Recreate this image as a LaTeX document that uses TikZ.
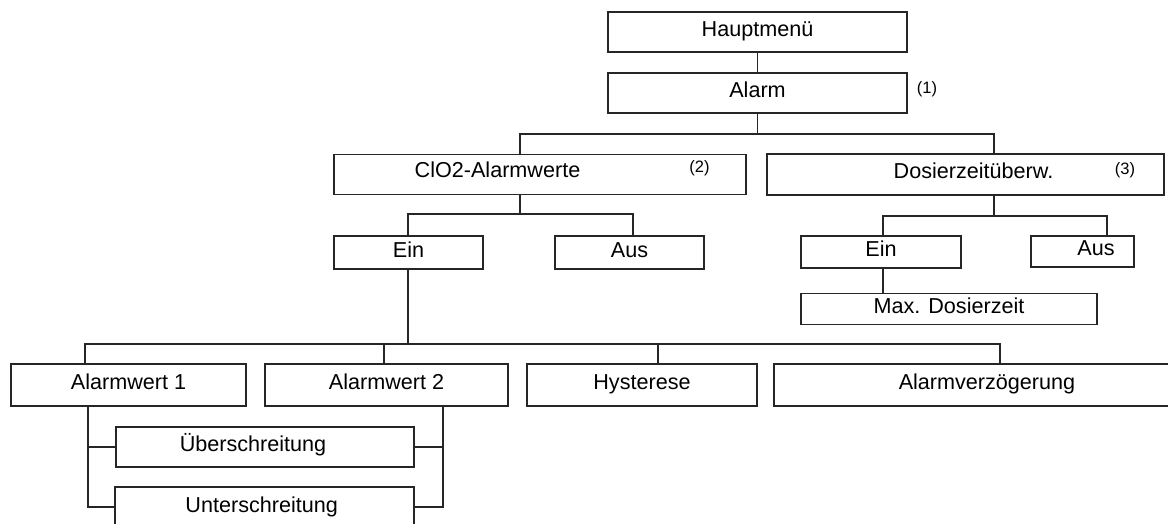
\documentclass[tikz,border=0pt]{standalone}
\usepackage{fontspec}
\setmainfont{Liberation Sans}
\usepackage{tikz}

\begin{document}
\begin{tikzpicture}[
    x=1pt,
    y=-1pt,
    line width=1.2pt,
    draw=black!85,
    every node/.style={font=\fontsize{21.6}{26}\selectfont},
    box/.style={
        draw=black!85,
        line width=1.2pt,
        inner sep=0pt,
        minimum height=40pt,
        text height=15.5pt,
        text depth=6pt
    },
    boxtext/.style={
        inner sep=0pt,
        text height=15.5pt,
        text depth=6pt
    },
    note/.style={
        font=\fontsize{16.5}{20}\selectfont,
        inner sep=0pt
    },
    trunk/.style={line width=1.6pt}
]

\useasboundingbox (0,0) rectangle (1168,524);


\node[box, minimum width=299pt] (haupt) at (757.5,32) {Hauptmenü};
\node[box, minimum width=299pt] (alarm) at (757.5,93) {Alarm};
\node[note] (n1) at (927,89.5) {(1)};


\node[box, minimum width=412pt] (clo2) at (540,174.5) {};
\node[boxtext] (clo2t) at (497.5,172.5) {ClO2-Alarmwerte};
\node[note] (n2) at (699.5,168) {(2)};

\node[box, minimum width=397pt, minimum height=41pt] (dosier) at (965.5,174.5) {};
\node[boxtext] (dosiert) at (973.5,173.5) {Dosierzeitüberw.};
\node[note] (n3) at (1125,170) {(3)};


\node[box, minimum width=149pt, minimum height=33pt] (ein1) at (408.5,252.5) {Ein};
\node[box, minimum width=149pt, minimum height=33pt] (aus1) at (629.5,252.5) {Aus};

\node[box, minimum width=160pt, minimum height=32pt] (ein2) at (881,252) {Ein};
\node[box, minimum width=103pt, minimum height=31pt] (aus2) at (1082.5,251.5) {};
\node[boxtext] (aus2t) at (1096,251) {Aus};
\node[box, minimum width=296pt, minimum height=31pt] (maxdos) at (949,309) {Max. Dosierzeit};


\node[box, minimum width=235pt, minimum height=42pt] (aw1) at (128.5,385) {Alarmwert 1};
\node[box, minimum width=243pt, minimum height=42pt] (aw2) at (386.5,385) {Alarmwert 2};
\node[box, minimum width=230pt, minimum height=42pt] (hyst) at (642,385) {Hysterese};
\node[box, minimum width=426pt, minimum height=42pt] (alarmv) at (987,385) {Alarmverzögerung};

\node[box, minimum width=298pt] (ueber) at (265,447) {};
\node[boxtext] (uebert) at (253,447) {Überschreitung};
\node[box, minimum width=299pt] (unter) at (264.5,507) {};
\node[boxtext] (untert) at (261.7,508) {Unterschreitung};


% connectors
\coordinate (bus1) at (757.5,134);
\draw (haupt.south) -- (alarm.north);
\draw (alarm.south) -- (bus1);
\draw ([xshift=-20pt]clo2.north) |- (bus1) -| ([xshift=28.5pt]dosier.north);

\coordinate (bus2) at (520,214);
\draw ([xshift=-20pt]clo2.south) -- (bus2);
\draw ([xshift=-0.5pt]ein1.north) |- (bus2) -| ([xshift=3.5pt]aus1.north);

\coordinate (bus3) at (994,216);
\draw ([xshift=28.5pt]dosier.south) -- (bus3);
\draw ([xshift=2pt]ein2.north) |- (bus3) -| ([xshift=24.5pt]aus2.north);
\draw ([xshift=2pt]ein2.south) -- ([xshift=2pt]ein2.south |- maxdos.north);

\coordinate (bus4) at (408,344);
\draw[trunk] ([xshift=-0.5pt]ein1.south) -- (bus4);
\draw ([xshift=-43.5pt]aw1.north) |- (bus4) -| ([xshift=13pt]alarmv.north);
\draw ([xshift=-2.5pt]aw2.north) -- ([xshift=-2.5pt]aw2.north |- bus4);
\draw ([xshift=16pt]hyst.north) -- ([xshift=16pt]hyst.north |- bus4);

\draw ([xshift=-40.5pt]aw1.south) |- (ueber.west);
\draw ([xshift=-40.5pt]aw1.south) |- (unter.west);
\draw ([xshift=56.5pt]aw2.south) |- (ueber.east);
\draw ([xshift=56.5pt]aw2.south) |- (unter.east);

\end{tikzpicture}
\end{document}
